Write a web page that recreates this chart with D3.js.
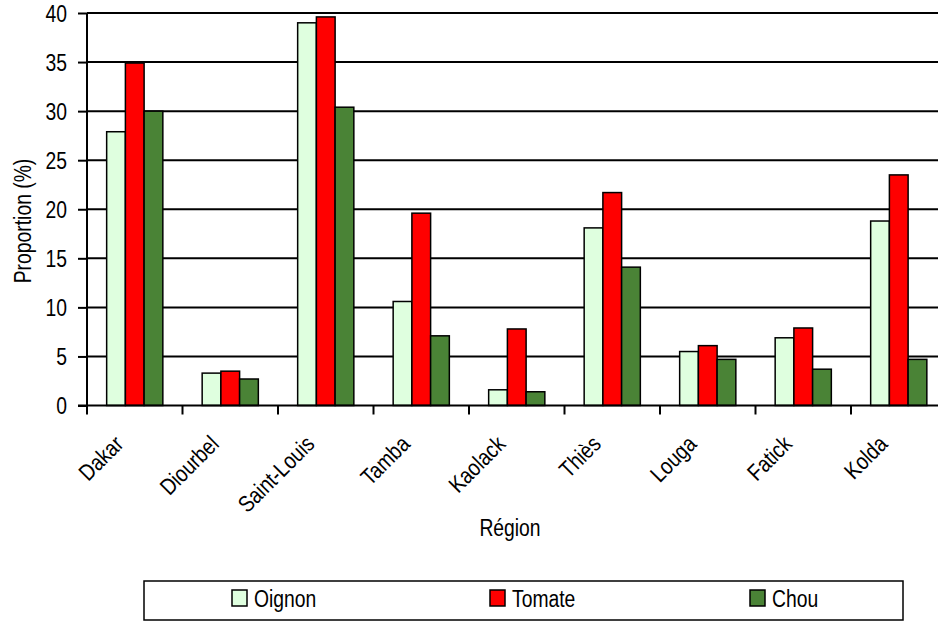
<!DOCTYPE html>
<html><head><meta charset="utf-8">
<script src="https://cdn.jsdelivr.net/npm/d3@7"></script>
<style>
body{margin:0;background:#fff;}
text{font-family:"Liberation Sans",Arial,sans-serif;fill:#000;}
</style></head>
<body><svg id="c" width="938" height="621"></svg>
<script>
const categories = ["Dakar","Diourbel","Saint-Louis","Tamba","Kaolack","Thiès","Louga","Fatick","Kolda"];
const seriesNames = ["Oignon","Tomate","Chou"];
const oignon = [27.9, 3.3, 39.0, 10.6, 1.6, 18.1, 5.5, 6.9, 18.8];
const tomate = [34.9, 3.5, 39.6, 19.6, 7.8, 21.7, 6.1, 7.9, 23.5];
const chou   = [30.0, 2.7, 30.4, 7.1, 1.4, 14.1, 4.7, 3.7, 4.7];
const yTicks = [0,5,10,15,20,25,30,35,40];
const colors = ["#DFFFDF","#FF0000","#4A8336"];

const values = [oignon, tomate, chou];
const svg = d3.select("#c");
const pLeft = 87, pTop = 13, pBottom = 405.5, pRight = 87 + 9*95.5;
const FS = 23, SQ = 0.84;

function narrow(sel){
  sel.each(function(){
    const w = this.getComputedTextLength();
    this.setAttribute("textLength", w*SQ);
    this.setAttribute("lengthAdjust","spacingAndGlyphs");
  });
}

const x0 = d3.scaleBand().domain(categories).range([pLeft, pRight]).padding(0);
const x1 = d3.scaleBand().domain(seriesNames).range([0, x0.bandwidth()]).paddingInner(0).paddingOuter(1.05);
const y = d3.scaleLinear().domain([0,40]).range([pBottom, pTop]);

// gridlines
svg.append("g").selectAll("line").data(yTicks.filter(d=>d>0)).join("line")
  .attr("x1", pLeft).attr("x2", 938).attr("y1", d=>y(d)).attr("y2", d=>y(d))
  .attr("stroke","#000").attr("stroke-width",2);

// bars
const g = svg.append("g");
categories.forEach((c,i)=>{
  seriesNames.forEach((s,j)=>{
    g.append("rect")
      .attr("x", x0(c)+x1(s)).attr("width", x1.bandwidth())
      .attr("y", y(values[j][i])).attr("height", y(0)-y(values[j][i]))
      .attr("fill", colors[j]).attr("stroke","#000").attr("stroke-width",1.5);
  });
});

// y axis
const ya = svg.append("g").attr("transform",`translate(${pLeft},0)`)
  .call(d3.axisLeft(y).tickValues(yTicks).tickSize(9).tickPadding(11));
ya.attr("font-family",null).attr("font-size",null);
ya.select(".domain").attr("stroke-width",2).attr("d",`M0,${pTop}V${pBottom}`);
ya.selectAll(".tick line").attr("stroke-width",2);
ya.selectAll("text").attr("font-size",FS).attr("dy","0.36em").call(narrow);

// x axis
const xa = svg.append("g").attr("transform",`translate(0,${pBottom})`);
xa.append("line").attr("x1",pLeft-9).attr("x2",938).attr("y1",0).attr("y2",0).attr("stroke","#000").attr("stroke-width",2);
xa.selectAll("line.tk").data(categories).join("line").attr("class","tk")
  .attr("x1",d=>x0(d)).attr("x2",d=>x0(d)).attr("y1",0).attr("y2",9).attr("stroke","#000").attr("stroke-width",2);
xa.selectAll("text.lb").data(categories).join("text").attr("class","lb")
  .attr("transform",d=>`translate(${x0(d)+x0.bandwidth()/2-10},${40}) rotate(-45)`)
  .attr("text-anchor","end").attr("font-size",FS).text(d=>d).call(narrow);

// axis titles
svg.append("text").attr("transform","translate(31,221) rotate(-90)").attr("text-anchor","middle")
  .attr("font-size",FS).text("Proportion (%)").call(narrow);
svg.append("text").attr("x",510).attr("y",536).attr("text-anchor","middle").attr("font-size",FS).text("Région").call(narrow);

// legend
const lg = svg.append("g");
lg.append("rect").attr("x",144).attr("y",581).attr("width",759).attr("height",39)
  .attr("fill","#fff").attr("stroke","#000").attr("stroke-width",1.5);
const legX = [232, 490, 750];
seriesNames.forEach((s,j)=>{
  lg.append("rect").attr("x",legX[j]).attr("y",590).attr("width",15).attr("height",16)
    .attr("fill",colors[j]).attr("stroke","#000").attr("stroke-width",1.5);
  lg.append("text").attr("x",legX[j]+22).attr("y",607).attr("font-size",FS).text(s).call(narrow);
});
</script></body></html>
